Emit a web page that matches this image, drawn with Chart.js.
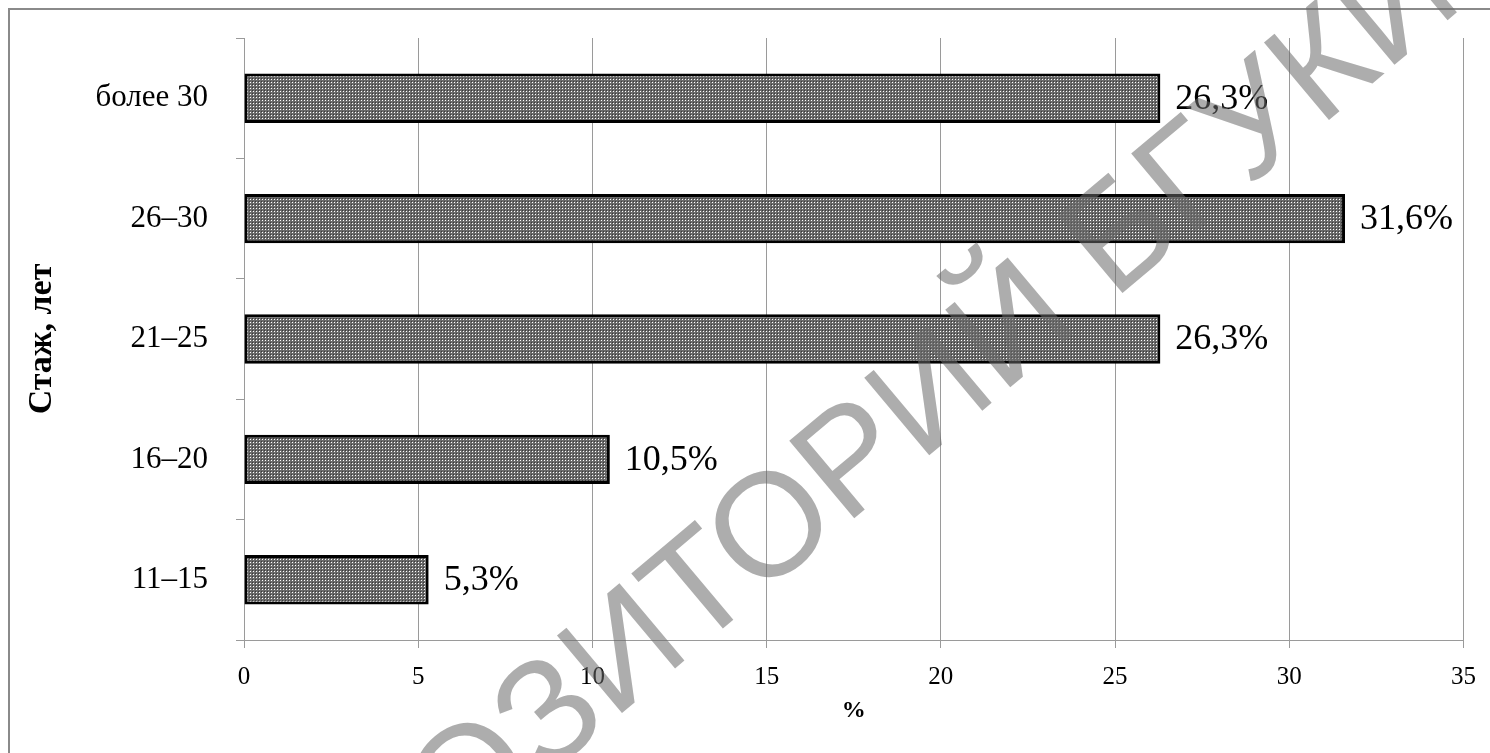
<!DOCTYPE html>
<html>
<head>
<meta charset="utf-8">
<script src="https://cdn.jsdelivr.net/npm/chart.js@4"></script>
<style>
  html, body { margin: 0; padding: 0; background: #fff; }
  #wrap { position: relative; width: 1490px; height: 753px; overflow: hidden; }
  #frame { position: absolute; left: 8px; top: 8px; width: 1500px; height: 800px; border: 2px solid #8a8a8a; box-sizing: border-box; }
  #myChart { position: absolute; left: 0; top: 0; }
</style>
</head>
<body>
<div id="wrap">
  <div id="frame"></div>
  <canvas id="myChart" width="1490" height="753"></canvas>
</div>
<script>
// data
const categories = ['более 30', '26–30', '21–25', '16–20', '11–15'];
const values = [26.3, 31.6, 26.3, 10.5, 5.3];
const xTicks = [0, 5, 10, 15, 20, 25, 30, 35];
const xTitle = '%';
const yTitle = 'Стаж, лет';
const watermark = 'РЕПОЗИТОРИЙ БГУКИ';

const serif = "'Liberation Serif', 'Times New Roman', serif";

// dotted grey fill like the original
function makePattern() {
	const c = document.createElement('canvas');
	c.width = 3; c.height = 3;
	const g = c.getContext('2d');
	g.fillStyle = '#6a6a6a';
	g.fillRect(0, 0, 3, 3);
	g.fillStyle = '#ffffff';
	g.fillRect(1, 1, 1, 1);
	g.fillStyle = '#3a3a3a';
	g.fillRect(0, 0, 1, 1);
	return g.createPattern(c, 'repeat');
}

const valueLabels = {
	id: 'valueLabels',
	afterDatasetsDraw(chart) {
		const ctx = chart.ctx;
		const meta = chart.getDatasetMeta(0);
		ctx.save();
		ctx.font = "36px " + serif;
		ctx.fillStyle = '#000';
		ctx.textAlign = 'left';
		ctx.textBaseline = 'middle';
		meta.data.forEach(function(bar, i) {
			const txt = values[i].toFixed(1).replace('.', ',') + '%';
			ctx.fillText(txt, bar.x + 15, bar.y + 1);
		});
		ctx.restore();
	}
};

const stamp = {
	id: 'stamp',
	afterDraw(chart) {
		const ctx = chart.ctx;
		ctx.save();
		ctx.translate(820, 494);
		ctx.rotate(-40 * Math.PI / 180);
		ctx.font = "147px 'Liberation Sans', Arial, sans-serif";
		ctx.fillStyle = 'rgba(105,105,105,0.55)';
		ctx.textAlign = 'center';
		ctx.textBaseline = 'middle';
		ctx.fillText(watermark, 0, 0);
		ctx.restore();
	}
};

const ctx = document.getElementById('myChart');
const chart = new Chart(ctx, {
	type: 'bar',
	data: {
		labels: categories,
		datasets: [{
			data: values,
			backgroundColor: makePattern(),
			borderColor: '#000',
			borderWidth: 3,
			borderSkipped: false,
			barPercentage: 0.41,
			categoryPercentage: 1
		}]
	},
	plugins: [valueLabels, stamp],
	options: {
		indexAxis: 'y',
		responsive: false,
		animation: false,
		layout: { padding: { top: 38, right: 24, left: 0, bottom: 0 } },
		plugins: {
			legend: { display: false },
			tooltip: { enabled: false }
		},
		scales: {
			x: {
				min: 0,
				max: 35,
				afterBuildTicks(scale) {
					scale.ticks = xTicks.map(function(v) { return { value: v }; });
				},
				afterFit(scale) { scale.height = 113; },
				grid: { color: '#9a9a9a', lineWidth: 1, tickLength: 8, drawTicks: true },
				border: { color: '#9a9a9a', width: 1 },
				ticks: { color: '#000', padding: 14, font: { family: serif, size: 25 } },
				title: {
					display: true,
					text: xTitle,
					color: '#000',
					font: { family: serif, size: 24, weight: 'bold' },
					padding: { top: 0, bottom: 28 }
				}
			},
			y: {
				afterFit(scale) {
					scale.width = 244;
					scale.paddingTop = 0;
					scale.paddingBottom = 0;
				},
				grid: { color: '#9a9a9a', drawOnChartArea: false, tickLength: 8, offset: true },
				border: { color: '#9a9a9a', width: 1 },
				ticks: { color: '#000', padding: 28, font: { family: serif, size: 31 } },
				title: {
					display: true,
					text: yTitle,
					color: '#000',
					font: { family: serif, size: 34, weight: 'bold' },
					padding: { top: 22, bottom: 0 }
				}
			}
		}
	}
});
</script>
</body>
</html>
